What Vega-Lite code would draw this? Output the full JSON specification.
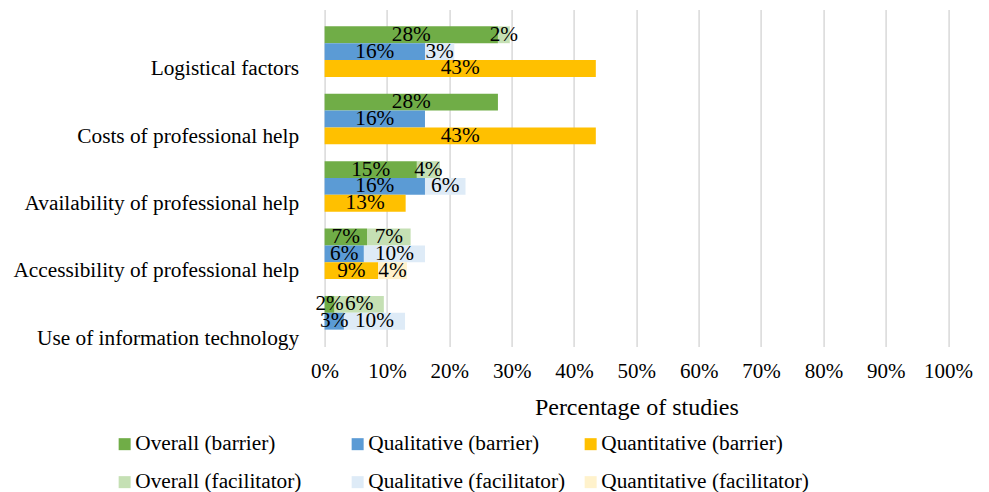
{
  "$schema": "https://vega.github.io/schema/vega-lite/v6.json",
  "width": 623.5,
  "height": 337,
  "autosize": {"type": "none"},
  "padding": {"left": 324.6, "top": 9.5, "right": 40.9, "bottom": 145.5},
  "background": "white",
  "config": {
    "view": {"stroke": null},
    "font": "Liberation Serif",
    "axis": {"labelFont": "Liberation Serif", "titleFont": "Liberation Serif", "labelColor": "black", "titleColor": "black"},
    "legend": {"labelFont": "Liberation Serif", "labelColor": "black"}
  },
  "data": {
    "values": [
      {"category": "Logistical factors", "study": "Overall", "role": "barrier", "series": "Overall (barrier)", "pct": 0.278, "label": "28%"},
      {"category": "Logistical factors", "study": "Overall", "role": "facilitator", "series": "Overall (facilitator)", "pct": 0.019, "label": "2%"},
      {"category": "Logistical factors", "study": "Qualitative", "role": "barrier", "series": "Qualitative (barrier)", "pct": 0.161, "label": "16%"},
      {"category": "Logistical factors", "study": "Qualitative", "role": "facilitator", "series": "Qualitative (facilitator)", "pct": 0.047, "label": "3%"},
      {"category": "Logistical factors", "study": "Quantitative", "role": "barrier", "series": "Quantitative (barrier)", "pct": 0.435, "label": "43%"},
      {"category": "Costs of professional help", "study": "Overall", "role": "barrier", "series": "Overall (barrier)", "pct": 0.278, "label": "28%"},
      {"category": "Costs of professional help", "study": "Qualitative", "role": "barrier", "series": "Qualitative (barrier)", "pct": 0.161, "label": "16%"},
      {"category": "Costs of professional help", "study": "Quantitative", "role": "barrier", "series": "Quantitative (barrier)", "pct": 0.435, "label": "43%"},
      {"category": "Availability of professional help", "study": "Overall", "role": "barrier", "series": "Overall (barrier)", "pct": 0.148, "label": "15%"},
      {"category": "Availability of professional help", "study": "Overall", "role": "facilitator", "series": "Overall (facilitator)", "pct": 0.037, "label": "4%"},
      {"category": "Availability of professional help", "study": "Qualitative", "role": "barrier", "series": "Qualitative (barrier)", "pct": 0.161, "label": "16%"},
      {"category": "Availability of professional help", "study": "Qualitative", "role": "facilitator", "series": "Qualitative (facilitator)", "pct": 0.065, "label": "6%"},
      {"category": "Availability of professional help", "study": "Quantitative", "role": "barrier", "series": "Quantitative (barrier)", "pct": 0.130, "label": "13%"},
      {"category": "Accessibility of professional help", "study": "Overall", "role": "barrier", "series": "Overall (barrier)", "pct": 0.068, "label": "7%"},
      {"category": "Accessibility of professional help", "study": "Overall", "role": "facilitator", "series": "Overall (facilitator)", "pct": 0.070, "label": "7%"},
      {"category": "Accessibility of professional help", "study": "Qualitative", "role": "barrier", "series": "Qualitative (barrier)", "pct": 0.063, "label": "6%"},
      {"category": "Accessibility of professional help", "study": "Qualitative", "role": "facilitator", "series": "Qualitative (facilitator)", "pct": 0.098, "label": "10%"},
      {"category": "Accessibility of professional help", "study": "Quantitative", "role": "barrier", "series": "Quantitative (barrier)", "pct": 0.086, "label": "9%"},
      {"category": "Accessibility of professional help", "study": "Quantitative", "role": "facilitator", "series": "Quantitative (facilitator)", "pct": 0.046, "label": "4%"},
      {"category": "Use of information technology", "study": "Overall", "role": "barrier", "series": "Overall (barrier)", "pct": 0.016, "label": "2%"},
      {"category": "Use of information technology", "study": "Overall", "role": "facilitator", "series": "Overall (facilitator)", "pct": 0.079, "label": "6%"},
      {"category": "Use of information technology", "study": "Qualitative", "role": "barrier", "series": "Qualitative (barrier)", "pct": 0.031, "label": "3%"},
      {"category": "Use of information technology", "study": "Qualitative", "role": "facilitator", "series": "Qualitative (facilitator)", "pct": 0.098, "label": "10%"}
    ]
  },
  "transform": [
    {"stack": "pct", "groupby": ["category", "study"], "sort": [{"field": "role", "order": "ascending"}], "as": ["x0", "x1"]}
  ],
  "encoding": {
    "y": {
      "field": "category",
      "type": "nominal",
      "sort": ["Logistical factors", "Costs of professional help", "Availability of professional help", "Accessibility of professional help", "Use of information technology"],
      "scale": {"paddingInner": 0, "paddingOuter": 0},
      "axis": {
        "title": null,
        "domain": false,
        "ticks": false,
        "tickSize": 0,
        "grid": false,
        "labelFontSize": 21.3,
        "labelPadding": 26,
        "labelOffset": 32,
        "labelBaseline": "alphabetic",
        "labelLimit": 400,
        "labelExpr": "datum.value == 'Costs of professional help' ? datum.value + '\u00a0' : datum.value"
      }
    },
    "yOffset": {
      "field": "study",
      "type": "nominal",
      "scale": {"domain": ["none", "Overall", "Qualitative", "Quantitative"], "paddingInner": 0, "paddingOuter": 0}
    }
  },
  "layer": [
    {
      "mark": {"type": "bar", "strokeWidth": 0},
      "encoding": {
        "x": {
          "field": "x0",
          "type": "quantitative",
          "title": "Percentage of studies",
          "scale": {"domain": [0, 1]},
          "axis": {
            "values": [0, 0.1, 0.2, 0.3, 0.4, 0.5, 0.6, 0.7, 0.8, 0.9, 1],
            "format": ".0%",
            "title": "Percentage of studies",
            "titleFontSize": 24,
            "titleFontWeight": "normal",
            "titleBaseline": "alphabetic",
            "titleY": 67.5,
            "domain": false,
            "ticks": false,
            "tickSize": 0,
            "grid": true,
            "gridColor": "#d9d9d9",
            "gridWidth": 1.5,
            "labelFontSize": 21,
            "labelPadding": 31,
            "labelBaseline": "alphabetic",
            "labelFlush": false
          }
        },
        "x2": {"field": "x1"},
        "color": {
          "field": "series",
          "type": "nominal",
          "scale": {
            "domain": ["Overall (barrier)", "Overall (facilitator)", "Qualitative (barrier)", "Qualitative (facilitator)", "Quantitative (barrier)", "Quantitative (facilitator)"],
            "range": ["#70AD47", "#C5E0B4", "#5B9BD5", "#DEEBF7", "#FFC000", "#FFF2CC"]
          },
          "legend": {
            "title": null,
            "orient": "none",
            "legendX": -210.6,
            "legendY": 424,
            "columns": 3,
            "gridAlign": "all",
            "columnPadding": 4,
            "rowPadding": 16,
            "padding": 0,
            "symbolType": "square",
            "symbolSize": 144,
            "symbolStrokeWidth": 0,
            "symbolOpacity": 1,
            "labelFontSize": 21.3,
            "labelOffset": 0,
            "labelLimit": 400
          }
        }
      }
    },
    {
      "transform": [
        {"fold": ["x0", "x1"], "as": ["edge", "pos"]},
        {"aggregate": [{"op": "mean", "field": "pos", "as": "mid"}], "groupby": ["category", "study", "role", "label"]}
      ],
      "mark": {"type": "text", "fontSize": 21.3, "font": "Liberation Serif", "color": "black", "align": "center", "baseline": "middle"},
      "encoding": {
        "x": {"field": "mid", "type": "quantitative", "title": "Percentage of studies"},
        "text": {"field": "label"}
      }
    }
  ]
}
